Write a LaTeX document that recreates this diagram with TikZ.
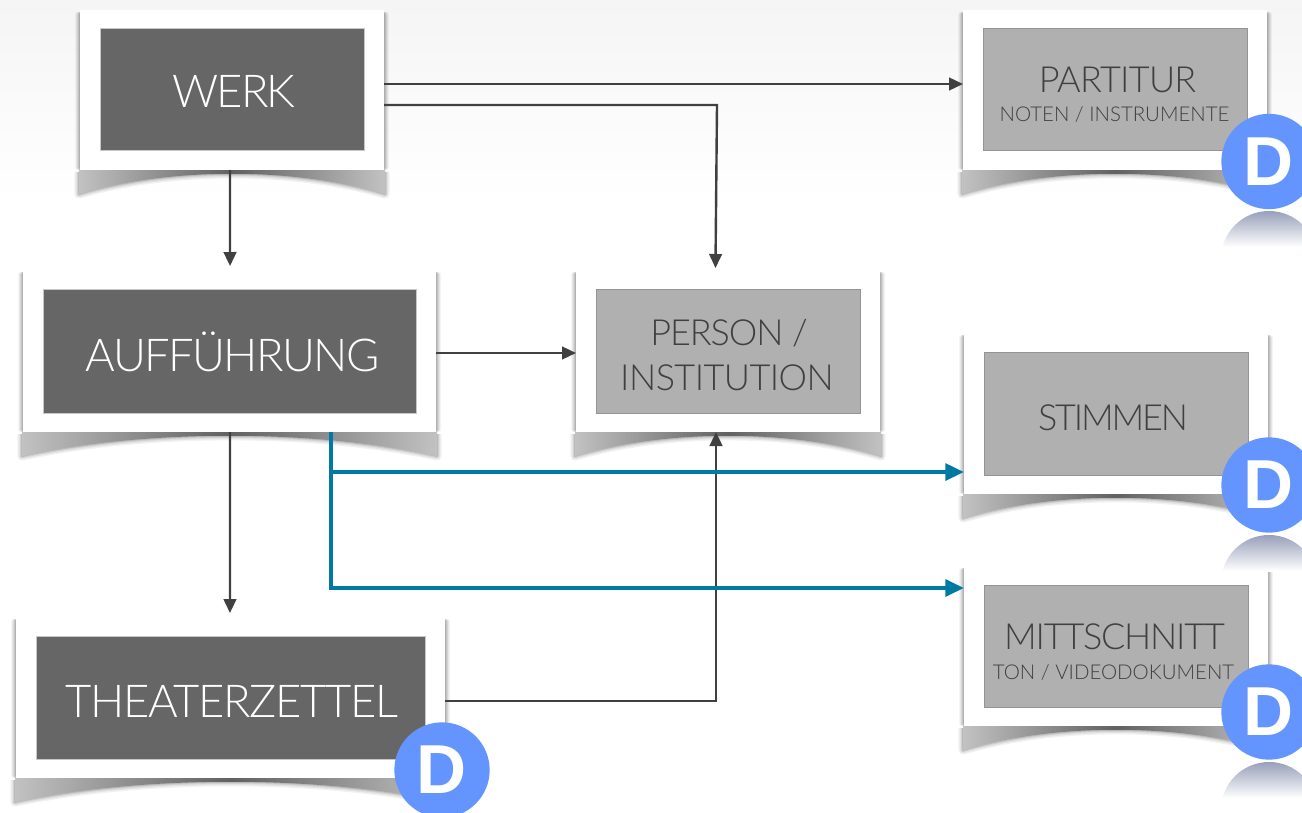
\documentclass[tikz,border=0pt]{standalone}
\usepackage{fontspec}
\setmainfont{Lato Light}
\newfontfamily\dfont{Liberation Sans}
\usetikzlibrary{arrows.meta,calc}
\definecolor{darkbox}{HTML}{666666}
\definecolor{lightbox}{HTML}{B0B0B0}
\definecolor{ink}{HTML}{404040}
\definecolor{bluearrow}{HTML}{007AA5}
\definecolor{dblue}{HTML}{6495FF}
\definecolor{domegray}{HTML}{98A0BA}
\tikzset{
  x=0.75pt,y=-0.75pt,
  cardbox/.style={fill=white,draw=none,inner sep=0,outer sep=0,anchor=north west},
  innerdark/.style={fill=darkbox,draw=black!22,line width=0.5pt,inner sep=0,anchor=north west},
  innerlight/.style={fill=lightbox,draw=black!42,line width=0.5pt,inner sep=0,anchor=north west},
  biglabel/.style={anchor=base,inner sep=0,text=white,font=\fontsize{34}{36}\selectfont},
  midlabel/.style={anchor=base,inner sep=0,text=ink,font=\fontsize{27}{29}\selectfont},
  smalllabel/.style={anchor=base,inner sep=0,text=ink,font=\fontsize{15.3}{17}\selectfont},
  conn/.style={draw=ink,line width=1.8pt,-{Triangle[length=10.5pt,width=9.5pt]}},
  bconn/.style={draw=bluearrow,line width=3pt,-{Triangle[length=14pt,width=12.5pt]}},
  dbadge/.style={circle,fill=dblue,draw=none,minimum size=71.5pt,inner sep=0,text=white,font=\dfont\bfseries\fontsize{52}{52}\selectfont},
}
\newcommand{\cardunder}[4]{% x1 y1 x2 y2
  \pgfmathsetmacro{\cwid}{#3-#1}
  \foreach \kk/\opa in {5/0.04,4/0.05,3/0.07,2/0.08,1/0.1}{
    \fill[black,opacity=\opa,rounded corners=2pt] ({#1-\kk},{#2+2}) rectangle ({#3+\kk},{#4});
  }
  \foreach \kk/\opa in {7/0.05,5/0.06,3/0.08,1.5/0.1}{
    \draw[black,opacity=\opa,line width=\kk pt,line join=round]
      ({#1-1},{#4+2}) -- ({#1-1},{#4+24}) .. controls ({#1+.3*\cwid},{#4-3}) and ({#3-.3*\cwid},{#4-3}) .. ({#3+1},{#4+24}) -- ({#3+1},{#4+2});
  }
  \shade[left color=black!24,right color=black!24,middle color=black!62]
    ({#1-1},{#4}) -- ({#1-1},{#4+24}) .. controls ({#1+.3*\cwid},{#4-3}) and ({#3-.3*\cwid},{#4-3}) .. ({#3+1},{#4+24}) -- ({#3+1},{#4}) -- cycle;
}
\newcommand{\card}[6]{% name x1 y1 x2 y2 innerstyle
  \cardunder{#2}{#3}{#4}{#5}
  \node[cardbox,minimum width={(#4-#2)*0.75pt},minimum height={(#5-#3)*0.75pt}] (#1) at (#2,#3) {};
  \node[#6,minimum width={(#4-#2-40)*0.75pt},minimum height={(#5-#3-38)*0.75pt}] (#1in) at ({#2+19.5},{#3+18.5}) {};
}
\newcommand{\dome}[2]{% cx top
  \begin{scope}
    \clip (#1,{#2+48}) circle[radius=48];
    \shade[top color=domegray,bottom color=white]
      ({#1-60},{#2}) rectangle ({#1+60},{#2+36});
  \end{scope}
}
\begin{document}
\begin{tikzpicture}
\useasboundingbox (0,0) rectangle (1302,813);
\clip (0,0) rectangle (1302,813);
\fill[white] (0,0) rectangle (1302,813);
\shade[top color=black!4,bottom color=white] (0,0) rectangle (1302,200);

\card{werk}{80}{10}{384}{170}{innerdark}
\card{auff}{23}{270}{436}{432}{innerdark}
\card{theater}{16}{617}{445}{778}{innerdark}
\card{person}{576}{270}{880}{432}{innerlight}
\card{partitur}{963}{10}{1267}{170}{innerlight}
\card{stimmen}{964}{333}{1268}{494}{innerlight}
\card{mitt}{964}{566}{1268}{726}{innerlight}

\node[biglabel] (lwerk) at (234,108) {\addfontfeature{LetterSpace=-4.5}WERK};
\node[biglabel] (lauff) at (232.5,371) {\addfontfeature{LetterSpace=-3.5}AUFFÜHRUNG};
\node[biglabel] (ltheater) at (232,717) {\addfontfeature{LetterSpace=-3}THEATERZETTEL};
\node[midlabel] (lperson) at (729,345) {\addfontfeature{LetterSpace=-3}PERSON /};
\node[midlabel] (linst) at (727,390) {\addfontfeature{LetterSpace=-1.5}INSTITUTION};
\node[midlabel] (lpart) at (1117.5,93) {\addfontfeature{LetterSpace=-2}PARTITUR};
\node[smalllabel] (lnoten) at (1114.5,122) {NOTEN / INSTRUMENTE};
\node[midlabel] (lstim) at (1113,430) {\addfontfeature{LetterSpace=-6}STIMMEN};
\node[midlabel] (lmitt) at (1114.5,649) {\addfontfeature{LetterSpace=-3.3}MITTSCHNITT};
\node[smalllabel] (lton) at (1113.5,679) {TON / VIDEODOKUMENT};

\draw[conn] ([yshift=4.5pt]werk.east) -- ([yshift=4.5pt]partitur.west);
\draw[conn] ([yshift=-11.25pt]werk.east) -- ++(333,0) -- ([xshift=-9.4pt,yshift=1.5pt]person.north);
\draw[conn] ([xshift=-1.5pt]werk.south) -- ([xshift=0.4pt,yshift=3pt]auff.north);
\draw[conn] ([xshift=0.4pt]auff.south) -- ([xshift=-0.4pt,yshift=3pt]theater.north);
\draw[conn] ([yshift=-1.5pt]auff.east) -- ([yshift=-1.5pt]person.west);
\draw[conn] ([yshift=-2.6pt]theater.east) -- ++(271,0) -- ([xshift=-9pt]person.south);

\draw[bconn] ([xshift=76pt]auff.south) |- ([yshift=-43.9pt]stimmen.west);
\draw[bconn] ([xshift=76pt]auff.south) |- ([yshift=43.5pt]mitt.west);

\dome{1269}{211}
\dome{1269}{535}
\dome{1269}{762}
\node[dbadge] (d1) at (1269,161.5) {D};
\node[dbadge] (d2) at (1269,485) {D};
\node[dbadge] (d3) at (1269,712) {D};
\node[dbadge] (d4) at (442,770) {D};
\end{tikzpicture}
\end{document}
